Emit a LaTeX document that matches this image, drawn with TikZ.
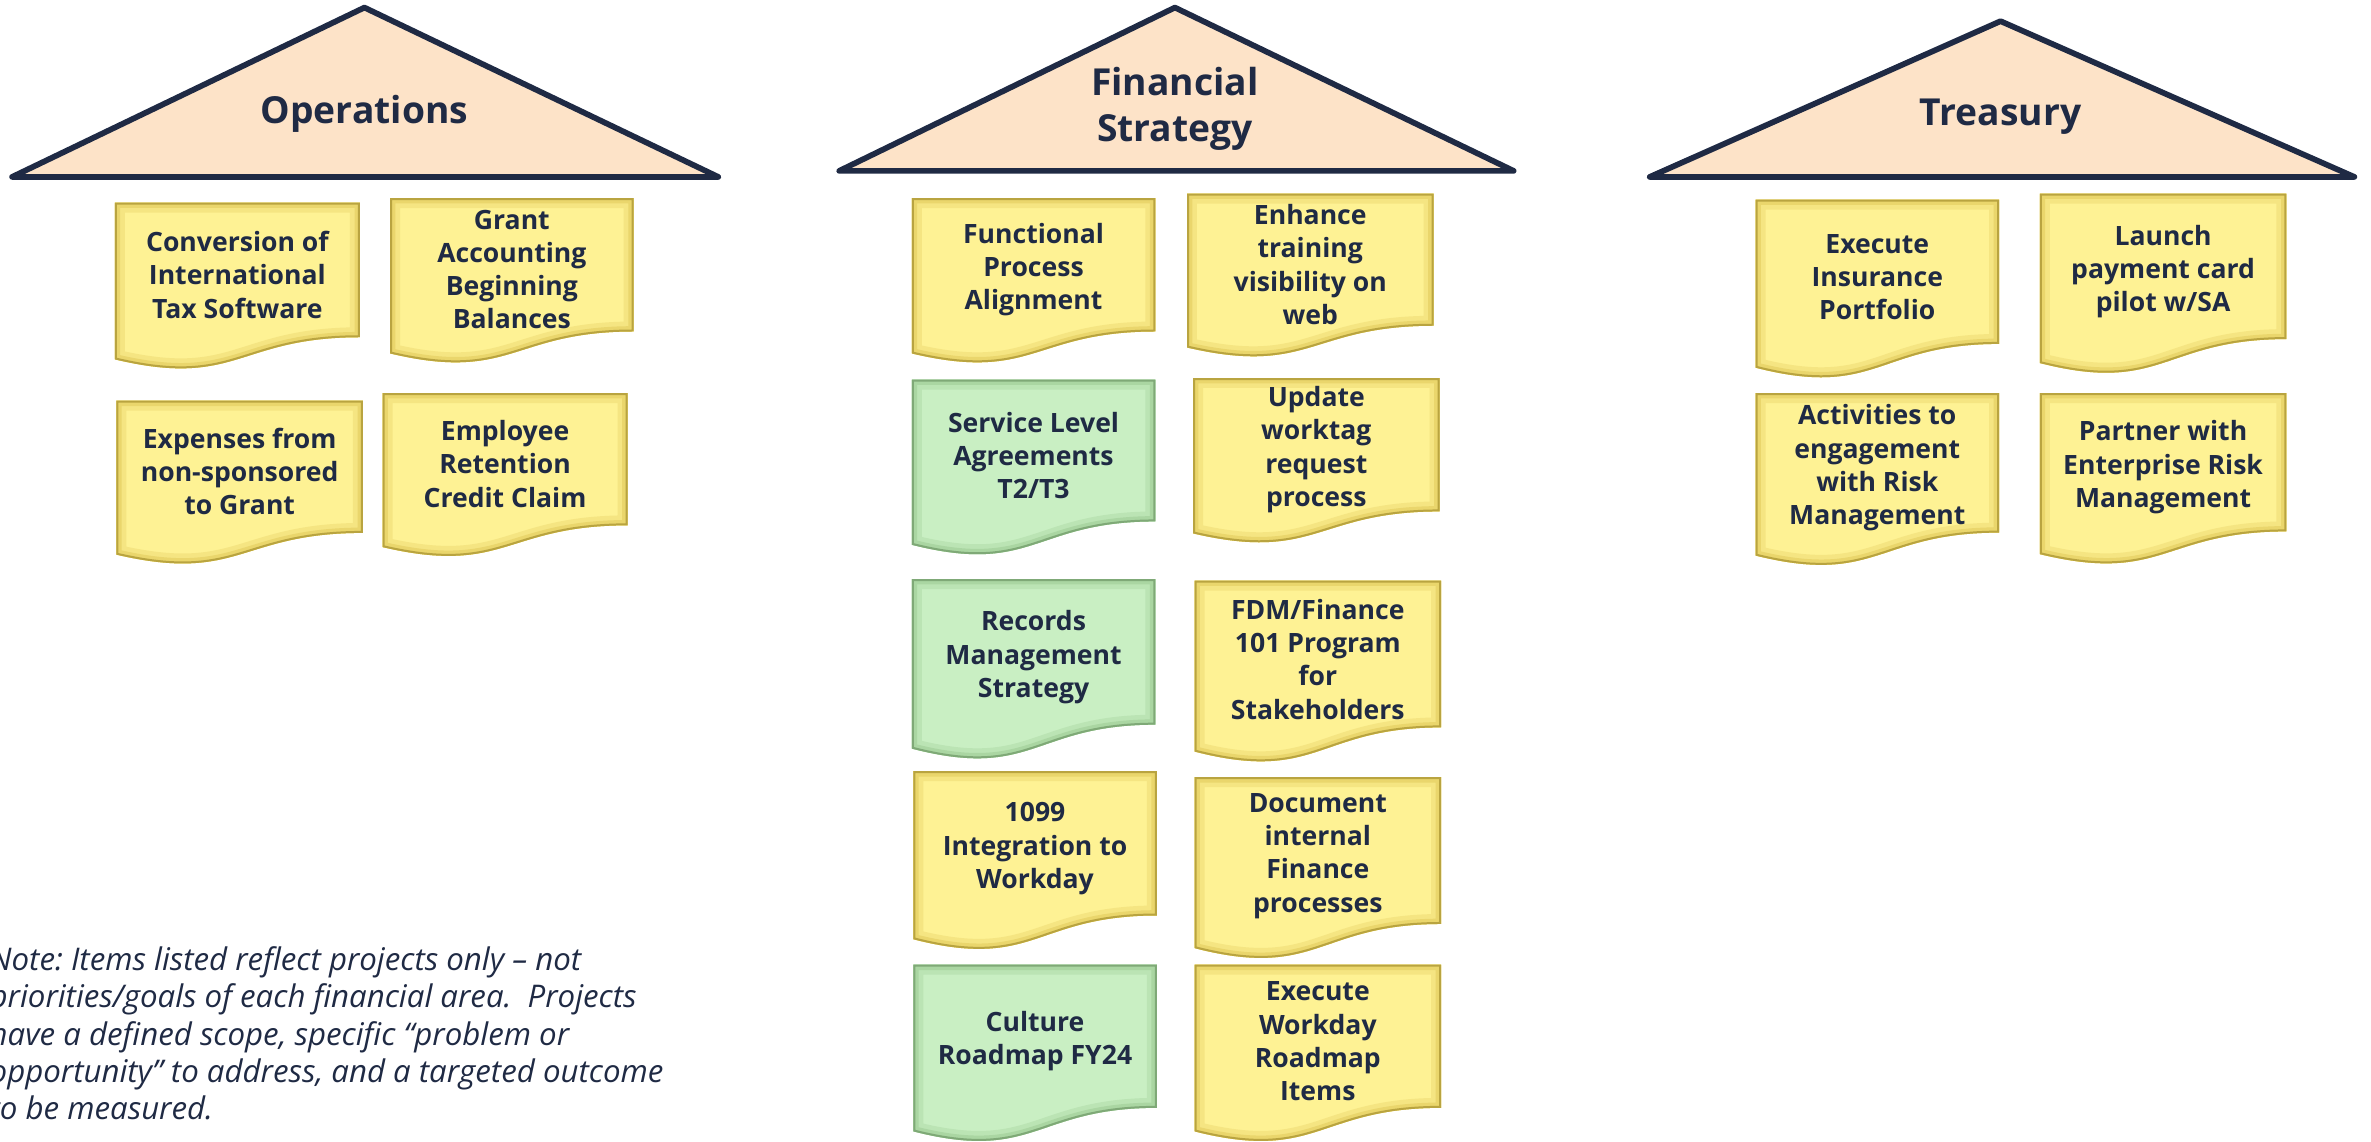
\documentclass[tikz,border=0pt]{standalone}
\usepackage{fontspec}
\setmainfont{Open Sans}
\frenchspacing
\definecolor{navy}{HTML}{1F2A44}
\definecolor{roofpeach}{HTML}{FDE3C8}
\definecolor{yellowface}{HTML}{FEF294}
\definecolor{yellowmid}{HTML}{EAD66C}
\definecolor{yellowdark}{HTML}{B9A440}
\definecolor{greenface}{HTML}{C9EFC3}
\definecolor{greenmid}{HTML}{AAD6A2}
\definecolor{greendark}{HTML}{7FA977}

% document shape, top left corner (#1,#2), width #3, height #4
\newcommand{\docpath}[4]{(#1,#2) -- ({#1+#3},#2) -- ({#1+#3},{#2+0.802*#4})
  .. controls ({#1+#3/2},{#2+0.802*#4}) and ({#1+#3/2},{#2+1.1075*#4}) .. (#1,{#2+0.934*#4}) -- cycle}

% name, x, y, width, height, colour, text
\newcommand{\project}[7]{
  \fill[#6face] \docpath{#2}{#3}{#4}{#5};
  \begin{scope}
    \clip \docpath{#2}{#3}{#4}{#5};
    \draw[#6mid!45!#6face, line width=15pt] \docpath{#2}{#3}{#4}{#5};
    \draw[#6mid, line width=8pt] \docpath{#2}{#3}{#4}{#5};
    \draw[#6dark, line width=3pt] \docpath{#2}{#3}{#4}{#5};
  \end{scope}
  \node[task] (#1) at ({#2+#4/2},{#3+0.43*#5}) {#7};
}

\tikzset{
  roof/.style={fill=roofpeach, draw=navy, line width=4.3pt, line join=round},
  heading/.style={font=\bfseries\fontsize{28}{34}\selectfont, text=navy, align=center},
  task/.style={font=\bfseries\fontsize{20}{25}\selectfont, text=navy, align=center, inner sep=0pt},
  remark/.style={font=\itshape\fontsize{23.5}{28}\selectfont, text=navy, align=left, anchor=north west, inner sep=0pt}
}

\begin{document}
\begin{tikzpicture}[x=0.04cm, y=-0.04cm]
\useasboundingbox (0,0) rectangle (1568,755);

% roofs
\draw[roof] (241,5) -- (8,117) -- (475,117) -- cycle;
\node[heading] (ops) at (241,75) {Operations};

\draw[roof] (777,5) -- (555,113) -- (1001,113) -- cycle;
\node[heading] (fin) at (777,72) {Financial\\Strategy};

\draw[roof] (1323,14) -- (1091,117) -- (1557,117) -- cycle;
\node[heading] (tre) at (1323,77) {Treasury};

% operations
\project{conv}{76}{134}{162}{111}{yellow}{Conversion of\\International\\Tax Software}
\project{grant}{258}{131}{161}{110}{yellow}{Grant\\Accounting\\Beginning\\Balances}
\project{expenses}{77}{265}{163}{109}{yellow}{Expenses from\\non-sponsored\\to Grant}
\project{employee}{253}{260}{162}{109}{yellow}{Employee\\Retention\\Credit Claim}

% financial strategy
\project{functional}{603}{131}{161}{110}{yellow}{Functional\\Process\\Alignment}
\project{enhance}{785}{128}{163}{109}{yellow}{Enhance\\training\\visibility on\\web}
\project{service}{603}{251}{161}{117}{green}{Service Level\\Agreements\\T2/T3}
\project{update}{789}{250}{163}{110}{yellow}{Update\\worktag\\request\\process}
\project{records}{603}{383}{161}{120}{green}{Records\\Management\\Strategy}
\project{fdm}{790}{384}{163}{121}{yellow}{FDM/Finance\\101 Program\\for\\Stakeholders}
\project{integration}{604}{510}{161}{119}{yellow}{1099\\Integration to\\Workday}
\project{document}{790}{514}{163}{121}{yellow}{Document\\internal\\Finance\\processes}
\project{culture}{604}{638}{161}{118}{green}{Culture\\Roadmap FY24}
\project{workday}{790}{638}{163}{118}{yellow}{Execute\\Workday\\Roadmap\\Items}

% treasury
\project{insurance}{1161}{132}{161}{119}{yellow}{Execute\\Insurance\\Portfolio}
\project{launch}{1349}{128}{163}{120}{yellow}{Launch\\payment card\\pilot w/SA}
\project{activities}{1161}{260}{161}{115}{yellow}{Activities to\\engagement\\with Risk\\Management}
\project{partner}{1349}{260}{163}{114}{yellow}{Partner with\\Enterprise Risk\\Management}

\node[remark] (note) at (-7,626) {Note: Items listed reflect projects only -- not\\
priorities/goals of each financial area.\ \ Projects\\
have a defined scope, specific “problem or\\
opportunity” to address, and a targeted outcome\\
to be measured.};
\end{tikzpicture}
\end{document}
